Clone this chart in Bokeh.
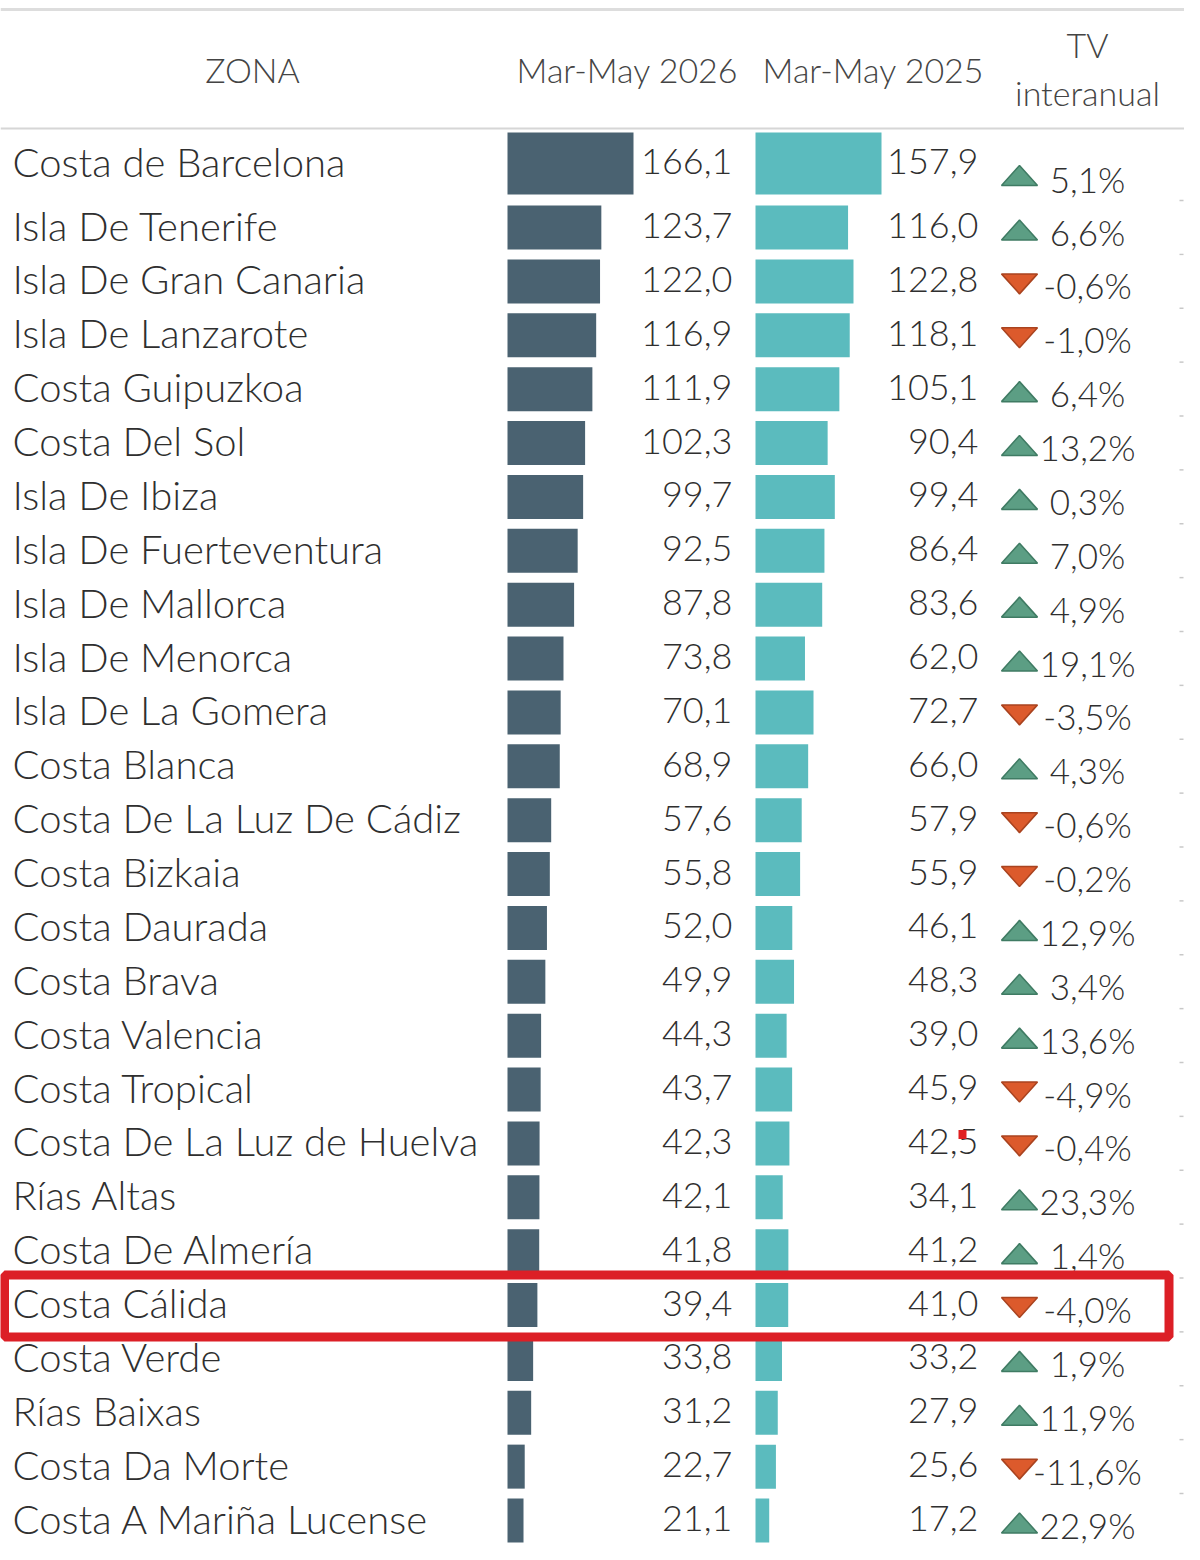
from bokeh.plotting import figure
from bokeh.models import Range1d, ColumnDataSource
from bokeh.core.properties import value
from bokeh.embed import file_html
from bokeh.resources import INLINE

# data
zones = [
    "Costa de Barcelona", "Isla De Tenerife", "Isla De Gran Canaria", "Isla De Lanzarote",
    "Costa Guipuzkoa", "Costa Del Sol", "Isla De Ibiza", "Isla De Fuerteventura",
    "Isla De Mallorca", "Isla De Menorca", "Isla De La Gomera", "Costa Blanca",
    "Costa De La Luz De Cádiz", "Costa Bizkaia", "Costa Daurada", "Costa Brava",
    "Costa Valencia", "Costa Tropical", "Costa De La Luz de Huelva", "Rías Altas",
    "Costa De Almería", "Costa Cálida", "Costa Verde", "Rías Baixas",
    "Costa Da Morte", "Costa A Mariña Lucense",
]
v2026 = [166.1, 123.7, 122.0, 116.9, 111.9, 102.3, 99.7, 92.5, 87.8, 73.8, 70.1, 68.9, 57.6,
         55.8, 52.0, 49.9, 44.3, 43.7, 42.3, 42.1, 41.8, 39.4, 33.8, 31.2, 22.7, 21.1]
v2025 = [157.9, 116.0, 122.8, 118.1, 105.1, 90.4, 99.4, 86.4, 83.6, 62.0, 72.7, 66.0, 57.9,
         55.9, 46.1, 48.3, 39.0, 45.9, 42.5, 34.1, 41.2, 41.0, 33.2, 27.9, 25.6, 17.2]
tv = [5.1, 6.6, -0.6, -1.0, 6.4, 13.2, 0.3, 7.0, 4.9, 19.1, -3.5, 4.3, -0.6,
      -0.2, 12.9, 3.4, 13.6, -4.9, -0.4, 23.3, 1.4, -4.0, 1.9, 11.9, -11.6, 22.9]
headers = ["ZONA", "Mar-May 2026", "Mar-May 2025", "TV", "interanual"]
highlight = "Costa Cálida"

W, H = 1184, 1544
FONT = value("Lato Light, Lato")
TXT = "#2f2f2f"
DARK = "#4a6271"
TEAL = "#5bbbbe"
GREEN, GREEN_LINE = "#5c9e84", "#3f7b63"
ORANGE, ORANGE_LINE = "#dc5a2c", "#a9431f"
RED = "#dc1f26"

# layout (pixel units of the reference, y grows downward)
def row_y(i):
    return 171 if i == 0 else 235 + (i - 1) * 53.875

ys = [row_y(i) for i in range(len(zones))]
heights = [62 if i == 0 else 44 for i in range(len(zones))]
tv_off = [15 if i == 0 else 4 for i in range(len(zones))]
tri_off = [12 if i == 0 else 2.5 for i in range(len(zones))]

fmt = lambda v: f"{v:.1f}".replace(".", ",")

X0, Y0 = 0, 8
p = figure(width=W, height=H, x_range=Range1d(X0, X0 + W), y_range=Range1d(Y0 + H, Y0),
           output_backend="svg", toolbar_location=None, min_border=0,
           x_axis_location=None, y_axis_location=None)
p.grid.visible = False
p.outline_line_color = None
p.background_fill_color = "white"

# each bar column scaled to its own max (max bar = 126 px)
BAR_LEN = 126
for name, x0, vals in (("v26", 507, v2026), ("v25", 755, v2025)):
    s = BAR_LEN / max(vals)
    p.extra_x_ranges[name] = Range1d((X0 - x0) / s, (X0 + W - x0) / s)

src = ColumnDataSource(dict(
    y=ys, h=heights, zone=zones, v26=v2026, v25=v2025,
    ty=[y - 2 for y in ys],
    t26=[fmt(v) for v in v2026], t25=[fmt(v) for v in v2025],
    ttv=[fmt(t) + "%" for t in tv],
    ytv=[y + o for y, o in zip(ys, tv_off)],
))

p.hbar(y="y", height="h", left=0, right="v26", source=src, x_range_name="v26",
       fill_color=DARK, line_color=None)
p.hbar(y="y", height="h", left=0, right="v25", source=src, x_range_name="v25",
       fill_color=TEAL, line_color=None)

p.text(x=12, y="ty", text="zone", source=src, text_font=FONT, text_font_size="40px",
       text_color=TXT, text_align="left", text_baseline="middle")
p.text(x=732, y="ty", text="t26", source=src, text_font=FONT, text_font_size="36px",
       text_color=TXT, text_align="right", text_baseline="middle")
p.text(x=978, y="ty", text="t25", source=src, text_font=FONT, text_font_size="36px",
       text_color=TXT, text_align="right", text_baseline="middle")
p.text(x=1087, y="ytv", text="ttv", source=src, text_font=FONT, text_font_size="35px",
       text_color=TXT, text_align="center", text_baseline="middle")

# trend triangles
for up in (True, False):
    xs, yss = [], []
    for y, o, t in zip(ys, tri_off, tv):
        if (t >= 0) != up:
            continue
        cx, cy = 1019, y + o
        xs.append([cx - 18, cx, cx + 18])
        yss.append([cy + 10, cy - 10, cy + 10] if up else [cy - 10, cy + 10, cy - 10])
    p.patches(xs, yss, fill_color=GREEN if up else ORANGE,
              line_color=GREEN_LINE if up else ORANGE_LINE, line_width=1.5)

# header
p.text(x=[252, 627, 873, 1087, 1087], y=[77, 77, 77, 52, 100], text=headers,
       text_font=FONT, text_font_size="34px", text_color="#444444",
       text_align="center", text_baseline="middle")
p.segment(x0=0, x1=1185, y0=17, y1=17, line_color="#dddddd", line_width=3)
p.segment(x0=0, x1=1185, y0=136, y1=136, line_color="#d6d6d6", line_width=2)

# faint row separators at the right edge
sep = [y - 27 for y in ys[1:]]
p.segment(x0=1179, x1=1183, y0=sep, y1=sep, line_color="#c8c8c8", line_width=1.5)

# highlight box
hy = ys[zones.index(highlight)] + 1
p.rect(x=(4 + 1168.5) / 2, y=hy, width=1164.5, height=62, fill_color=None,
       line_color=RED, line_width=9)
# stray red mark on 42,5
p.rect(x=962, y=1142, width=8, height=9, fill_color="#e02020", line_color=None)

open("out.html", "w").write(file_html(p, INLINE))
